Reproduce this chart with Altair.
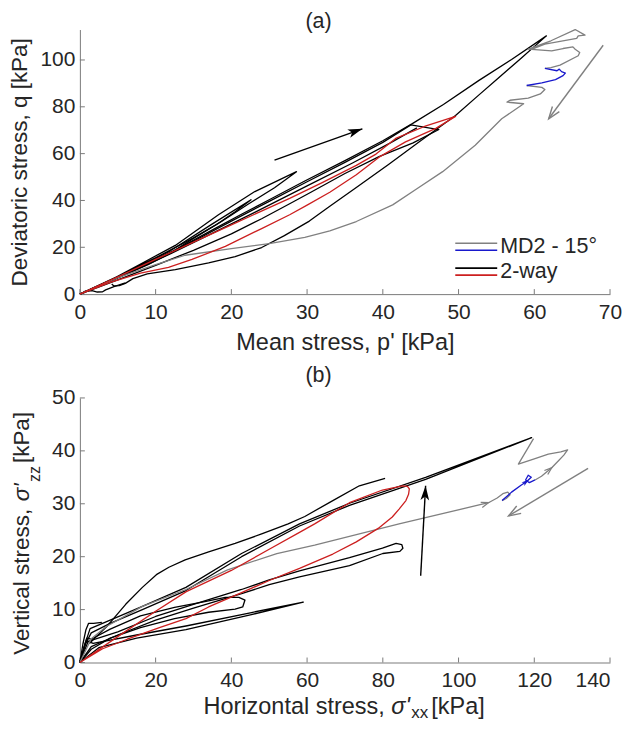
import math
import altair as alt
import pandas as pd

FONT = "Liberation Sans"
TXT = "#262626"
AXC = "#7a7a7a"
C_BLACK = "#000000"
C_GREY = "#808080"
C_RED = "#cc1f1f"
C_BLUE = "#1818cc"

# ---------------- panel (a): deviatoric vs mean stress ----------------
A_TITLE = "(a)"
A_XTITLE = "Mean stress, p' [kPa]"
A_YTITLE = "Deviatoric stress, q [kPa]"
A_XDOM = [0, 70]
A_YDOM = [0, 113]
A_XTICKS = [0, 10, 20, 30, 40, 50, 60, 70]
A_YTICKS = [0, 20, 40, 60, 80, 100]
A_LEGEND = ["MD2 - 15°", "2-way"]

A_BLACK_1 = [(0, 0), (4, 5.6), (8, 11.8), (12.6, 18.8), (18, 28.3), (21.4, 34.2), (25, 40.3), (29.7, 48.3),
             (35, 57), (40, 65.5), (43.9, 72.8), (48, 81), (52.7, 91.3), (57, 100.2), (61.6, 110.3),
             (58, 100), (55, 91.6), (52.7, 85.1), (49.6, 76.3), (45, 65.5), (40.8, 55.5), (36.5, 45.5),
             (33, 37.5), (30.3, 31.2), (27, 25), (24, 19.9), (20.5, 16), (17, 13.3), (12.6, 10.5),
             (8.9, 8.6), (7, 6.6), (6, 4.6), (5.2, 3.6), (4.5, 3.5), (4.2, 4.3)]
A_BLACK_2 = [(0, 0), (5, 7.2), (10, 14.6), (15, 22.6), (20, 31.2), (25, 39.6), (30, 48.0), (35, 56.3),
             (40, 64.8), (43.7, 72.3), (47.4, 70.3), (44, 64.6), (39.5, 58.7), (35, 51.5), (30.5, 43.5),
             (27.7, 38.6), (24, 32.2), (20, 25.7), (15, 18.7), (10, 12.3), (5, 6.1), (0, 0)]
A_BLACK_3 = [(0, 0), (4, 5.9), (8.2, 13.2), (12.6, 20.8), (18.3, 33.9), (23.1, 43.8), (28.6, 52.3),
             (25.7, 45.4), (22.2, 38.4), (18.7, 31), (15, 24), (10, 15.5), (5, 7.6), (0, 0)]
A_BLACK_4 = [(0, 0), (6, 8.8), (12, 18.6), (17.5, 30), (22.6, 40.3), (20.5, 35.2), (18, 29.6), (15, 23.8),
             (12, 17.6), (9, 12.6), (5, 7), (0, 0)]
A_BLACK_5 = [(0.6, 1.2), (1.6, 1.5), (2.3, 0.9), (3.0, 1.0), (3.4, 1.8), (4.5, 3.2), (6.0, 4.8)]
A_BLACK_6 = [(0, 0), (6, 8.3), (12, 17.3), (18, 26.8), (24, 36.4), (30, 46.2), (36, 56), (41, 64.6),
             (44.5, 71.0)]
A_GREY_1 = [(0, 0), (5, 7), (10, 12.6), (13.9, 16.6), (20, 19.4), (25, 21.6), (29.7, 24.2), (33, 27),
            (36.5, 31), (41.3, 38.1), (44.5, 45), (47.9, 52.3), (52.2, 63.6), (55.7, 74.9), (58.6, 81.3),
            (56.4, 82.0), (56.8, 82.8), (59.2, 83.7), (60.8, 85.5), (61.4, 87.4), (61.0, 88.3), (59.0, 89.1)]
A_BLUE_1 = [(59.0, 89.1), (61.0, 90.2), (62.8, 91.6), (63.8, 93.3), (64.1, 94.4), (63.6, 95.0), (63.3, 96.1),
            (63.0, 95.4), (61.4, 96.4)]
A_GREY_2 = [(61.4, 96.4), (62.2, 96.7), (63.4, 97.8), (65.8, 101.8), (66.0, 103.2), (65.4, 104.6),
            (65.1, 105.6), (63.8, 104.9), (62.3, 103.9), (59.2, 104.6), (62.2, 108.2), (65.4, 113.0),
            (66.7, 110.6), (65.8, 110.3), (65.6, 109.2), (61.4, 106.8), (59.7, 104.6)]
A_RED_1 = [(0, 0), (4, 5.0), (8, 9.0), (11.7, 11.4), (14.8, 14.8), (19.2, 20.4), (24, 28.0), (27.7, 33.9),
           (30, 38), (33, 43.5), (36.5, 51), (39.5, 58.5), (43, 65), (47, 70.8), (49.6, 75.9), (45.5, 71.6),
           (41.7, 66.5), (39.1, 59.8), (36.5, 55), (32, 47.6), (27.7, 40.9), (20, 29.6), (15, 22.2),
           (10, 14.8), (5, 7.4), (0, 0)]
A_ARROW_BLACK = [(25.7, 57.2), (37.3, 70.6)]
A_ARROW_GREY = [(69.1, 106.3), (61.9, 74.9)]

# ---------------- panel (b): vertical vs horizontal stress ----------------
B_TITLE = "(b)"
B_XTITLE = ["Horizontal stress, ", "σ'", "xx", " [kPa]"]
B_YTITLE = ["Vertical stress, ", "σ'", "zz", " [kPa]"]
B_XDOM = [0, 140]
B_YDOM = [0, 50]
B_XTICKS = [0, 20, 40, 60, 80, 100, 120, 140]
B_YTICKS = [0, 10, 20, 30, 40, 50]

B_BLACK_S = [(2.5, 3.6), (4.5, 5.0), (7.1, 6.8), (9.5, 8.8), (12.1, 11.0), (16.5, 14.2), (20.2, 16.6),
             (23.5, 18.0), (27.8, 19.4), (34, 20.9), (41, 22.5), (48, 24.3), (55, 26.2), (59.4, 27.6),
             (66.8, 30.6), (73.8, 33.4), (80.6, 34.8)]
B_BLACK_LONG = [(0, 0), (1.2, 3.2), (2.7, 6.4), (8, 8), (16.5, 10.6), (28, 14.2), (42.7, 20.6), (58, 26.2),
                (71.2, 30.1), (91.3, 35), (119.3, 42.5), (91.3, 34.6), (71.2, 29.7), (58, 25.8),
                (42.7, 20.0), (28, 13.6), (16.5, 10.0), (8, 7.4), (3, 5.6), (1.5, 3.5), (0, 0)]
B_BLACK_84 = [(0, 0), (1.5, 3.8), (3, 4.2), (10, 5.8), (20, 8.7), (30, 11.0), (42.7, 13.8), (50, 15.6),
              (58, 17.3), (71.2, 19.8), (79.9, 21.6), (83.5, 22.5), (85, 22.3), (85.3, 21.6), (84.5, 21.0),
              (80, 20.6), (71.2, 18.3), (58, 16.2), (50, 14.7), (42.7, 13.0), (30, 10.3), (20, 8.0),
              (10, 5.2), (3, 3.0), (0, 0)]
B_BLACK_43 = [(0, 0), (1.8, 4.6), (3, 4.4), (8, 6.3), (16, 8.8), (25, 10.4), (33, 11.5), (38.4, 12.3),
              (42, 12.3), (43.6, 11.8), (43, 10.5), (41, 10.1), (34, 9.5), (25, 8.3), (16, 6.6), (8, 4.6),
              (3, 2.5), (0, 0)]
B_BLACK_59 = [(0, 0), (2.2, 4.0), (3.5, 3.6), (15, 5.2), (28, 6.9), (45, 9.4), (59, 11.4), (45, 9.0),
              (28, 6.2), (15, 4.6), (5, 2.8), (0, 0)]
B_BLACK_SPIKE = [(0, 0), (0.8, 3.5), (1.6, 6.2), (2.3, 7.4), (3.6, 7.4), (5.8, 7.6)]
B_GREY_1 = [(0, 0), (3, 4.5), (7, 6.8), (16.5, 10.6), (28, 13.8), (39, 17.5), (52, 20.6), (62, 22.2),
            (84.3, 26.2), (107.9, 30.2), (110.2, 31.1), (111.7, 31.9), (113, 32.2), (113.6, 31.7),
            (112.6, 31.0), (111.5, 30.6)]
B_BLUE_1 = [(111.5, 30.6), (114, 32.2), (116.5, 33.5), (118, 34.2), (119.2, 35.0), (118.4, 35.4),
            (117.7, 34.5), (118.7, 34.0), (120.2, 34.5)]
B_GREY_2 = [(120.2, 34.5), (121.9, 35.2), (124.6, 36.8), (126.2, 38.0), (127.8, 39.2), (128.8, 40.2),
            (127, 39.8), (123.7, 39.4), (120, 38.5), (115.8, 37.5), (119.8, 42.3)]
B_RED_1 = [(0, 0), (6, 2.6), (12.5, 4.4), (21, 6.6), (28, 8.3), (34, 10.5), (42.7, 13.2), (50, 15.5),
           (58, 17.8), (66.8, 20.5), (73, 22.8), (79.1, 25.5), (82.5, 27.5), (84.3, 29), (86.1, 30.6),
           (86.8, 31.8), (87, 32.8), (86.5, 33.3), (85.2, 33.4), (79.9, 32.6), (71.2, 30.2), (62, 26.2),
           (58, 24.6), (50, 21.4), (40, 17.4), (28.1, 13.4), (20, 9.7), (10, 4.9), (0, 0)]
B_ARROW_BLACK = [(90.0, 16.4), (91.3, 33.4)]
B_ARROW_GREY = [(134.2, 36.7), (113.2, 27.7)]
B_GREY_GLYPHS = [[(105.3, 29.6), (107.9, 30.2)], [(122.6, 35.6), (124.6, 36.8)]]
B_BLUE_GLYPHS = [[(117.0, 33.7), (118.6, 34.6)]]

# ---------------- layout / style ----------------
W = 531
HA = 265
HB = 265
LAB = 21        # tick labels
XT = 23.5       # horizontal axis titles
YT = 22.5       # vertical axis titles
PT = 21.5       # (a)/(b)
SUBX = 17
SUBY = 16
TITLE_X = 239   # centre of the (a)/(b) labels, from the plot's left edge

HEAD_FILLED = "M0,0L-0.6,2L0,1.5L0.6,2Z"
HEAD_OPEN = "M-0.5,1.4L0,0L0.5,1.4"

CW = {' ': 278, 'H': 722, 'o': 556, 'r': 333, 'i': 222, 'z': 500, 'n': 556, 't': 278, 'a': 556,
      'l': 222, 's': 500, 'e': 556, ',': 278, '[': 278, 'k': 500, 'P': 667, ']': 278, 'V': 667,
      'c': 500, 'x': 500, "'": 191, 'σ': 620}


def tw(s, size):
    return sum(CW.get(c, 556) for c in s) / 1000.0 * size


def enc(xdom, ydom, xticks, yticks, xtitle, ytitle, last_right=None):
    xs = alt.Scale(domain=xdom, nice=False, zero=False)
    ys = alt.Scale(domain=ydom, nice=False, zero=False)
    xkw = {}
    if last_right is not None:
        xkw["labelAlign"] = {"condition": {"test": f"datum.value == {last_right}", "value": "right"},
                             "value": "center"}
    ax = alt.Axis(values=xticks, title=xtitle, grid=False, ticks=False, tickSize=0, domainColor=AXC,
                  labelFont=FONT, labelFontSize=LAB, labelColor=TXT, labelPadding=7, labelFlush=False,
                  labelOverlap=False,
                  titleFont=FONT, titleFontSize=XT, titleFontWeight="normal", titleColor=TXT,
                  titlePadding=8, **xkw)
    ay = alt.Axis(values=yticks, title=ytitle, grid=False, ticks=False, tickSize=0, domainColor=AXC,
                  labelFont=FONT, labelFontSize=LAB, labelColor=TXT, labelPadding=5, labelFlush=False,
                  labelOverlap=False,
                  titleFont=FONT, titleFontSize=YT, titleFontWeight="normal", titleColor=TXT,
                  titlePadding=8)
    return (lambda f="x": alt.X(f"{f}:Q", scale=xs, axis=ax)), (lambda f="y": alt.Y(f"{f}:Q", scale=ys, axis=ay))


def curves_df(curves):
    rows = []
    for n, pts in enumerate(curves):
        for k, (x, y) in enumerate(pts):
            rows.append({"curve": n, "i": k, "x": x, "y": y})
    return pd.DataFrame(rows)


def line_layer(curves, color, X, Y, sw=1.3):
    return alt.Chart(curves_df(curves)).mark_line(color=color, strokeWidth=sw, strokeJoin="round").encode(
        x=X(), y=Y(), detail="curve:N", order="i:Q")


def angle(p0, p1, sx, sy):
    dx = (p1[0] - p0[0]) * sx
    dy = -(p1[1] - p0[1]) * sy
    return math.degrees(math.atan2(dx, -dy)) % 360


def head_layer(segs, color, X, Y, sx, sy, filled, size, sw=1.4):
    df = pd.DataFrame([{"x": s[1][0], "y": s[1][1], "ang": angle(s[0], s[1], sx, sy)} for s in segs])
    return alt.Chart(df).mark_point(shape=HEAD_FILLED if filled else HEAD_OPEN, filled=filled,
                                    color=color, size=size, opacity=1, strokeWidth=sw).encode(
        x=X(), y=Y(), angle=alt.Angle("ang:Q", scale=None))


def arrow_layers(arrow, color, X, Y, sx, sy, filled, size):
    (x0, y0), (x1, y1) = arrow
    shaft = alt.Chart(pd.DataFrame([{"x": x0, "y": y0, "x2": x1, "y2": y1}])).mark_rule(
        color=color, strokeWidth=1.4).encode(x=X(), y=Y(), x2="x2:Q", y2="y2:Q")
    return [shaft, head_layer([arrow], color, X, Y, sx, sy, filled, size)]


def tick_layers(xticks, yticks, X, Y, H):
    xt = alt.Chart(pd.DataFrame({"x": xticks})).mark_rule(color=AXC, strokeWidth=1).encode(
        x=X(), y=alt.value(H), y2=alt.value(H - 5))
    yt = alt.Chart(pd.DataFrame({"y": yticks})).mark_rule(color=AXC, strokeWidth=1).encode(
        y=Y(), x=alt.value(0), x2=alt.value(5))
    return [xt, yt]


def text_layer(txt, x, y, size, align="center", angle_=0, style="normal", baseline="middle"):
    return alt.Chart(pd.DataFrame({"t": [txt]})).mark_text(
        font=FONT, fontSize=size, color=TXT, align=align, baseline=baseline, angle=angle_,
        fontStyle=style).encode(text="t:N", x=alt.value(x), y=alt.value(y))


# ---------------- panel (a) ----------------
XA, YA = enc(A_XDOM, A_YDOM, A_XTICKS, A_YTICKS, A_XTITLE, A_YTITLE)
sxa, sya = W / (A_XDOM[1] - A_XDOM[0]), HA / (A_YDOM[1] - A_YDOM[0])
layers_a = tick_layers(A_XTICKS, A_YTICKS, XA, YA, HA)
layers_a += [
    line_layer([A_BLACK_1, A_BLACK_2, A_BLACK_3, A_BLACK_4, A_BLACK_5, A_BLACK_6], C_BLACK, XA, YA),
    line_layer([A_GREY_1, A_GREY_2], C_GREY, XA, YA),
    line_layer([A_RED_1], C_RED, XA, YA),
    line_layer([A_BLUE_1], C_BLUE, XA, YA),
]
layers_a += arrow_layers(A_ARROW_BLACK, C_BLACK, XA, YA, sxa, sya, True, 210)
layers_a += arrow_layers(A_ARROW_GREY, C_GREY, XA, YA, sxa, sya, False, 300)
for yy, col in [(214, C_GREY), (221, C_BLUE), (239, C_BLACK), (246, C_RED)]:
    layers_a.append(alt.Chart(pd.DataFrame({"k": [0]})).mark_rule(color=col, strokeWidth=1.6).encode(
        x=alt.value(376), x2=alt.value(418), y=alt.value(yy)))
layers_a += [text_layer(A_LEGEND[0], 421, 217.5, 21.5, align="left"),
             text_layer(A_LEGEND[1], 421, 242.5, 21.5, align="left"),
             text_layer(A_TITLE, TITLE_X, -7.5, PT)]
panel_a = alt.layer(*layers_a).properties(width=W, height=HA)

# ---------------- panel (b) ----------------
XB, YB = enc(B_XDOM, B_YDOM, B_XTICKS, B_YTICKS, None, None, last_right=140)
sxb, syb = W / (B_XDOM[1] - B_XDOM[0]), HB / (B_YDOM[1] - B_YDOM[0])
layers_b = tick_layers(B_XTICKS, B_YTICKS, XB, YB, HB)
layers_b += [
    line_layer([B_BLACK_S, B_BLACK_LONG, B_BLACK_84, B_BLACK_43, B_BLACK_59, B_BLACK_SPIKE], C_BLACK, XB, YB),
    line_layer([B_GREY_1, B_GREY_2], C_GREY, XB, YB),
    line_layer([B_RED_1], C_RED, XB, YB),
    line_layer([B_BLUE_1], C_BLUE, XB, YB),
]
layers_b += arrow_layers(B_ARROW_BLACK, C_BLACK, XB, YB, sxb, syb, True, 210)
layers_b += arrow_layers(B_ARROW_GREY, C_GREY, XB, YB, sxb, syb, False, 300)
layers_b.append(head_layer(B_GREY_GLYPHS, C_GREY, XB, YB, sxb, syb, False, 110, sw=1.3))
layers_b.append(head_layer(B_BLUE_GLYPHS, C_BLUE, XB, YB, sxb, syb, True, 60))
layers_b.append(text_layer(B_TITLE, TITLE_X, -22, PT))

# x title with subscript
ws = [tw(B_XTITLE[0], XT), tw(B_XTITLE[1], XT) + 1, tw(B_XTITLE[2], SUBX) + 3, tw(B_XTITLE[3], XT)]
cum = 268 - sum(ws) / 2
yb = HB + 52
for k, part in enumerate(B_XTITLE):
    sub = (k == 2)
    layers_b.append(text_layer(part, cum, yb + (4 if sub else 0), SUBX if sub else XT, align="left",
                               style="italic" if k == 1 else "normal", baseline="alphabetic"))
    cum += ws[k]

# y title with subscript (rotated)
ws = [tw(B_YTITLE[0], YT), tw(B_YTITLE[1], YT) + 1, tw(B_YTITLE[2], SUBY) + 3, tw(B_YTITLE[3], YT)]
xb = -51
cum = HB / 2 + sum(ws) / 2
for k, part in enumerate(B_YTITLE):
    sub = (k == 2)
    layers_b.append(text_layer(part, xb + (11 if sub else 0), cum, SUBY if sub else YT, align="left",
                               angle_=270, style="italic" if k == 1 else "normal", baseline="alphabetic"))
    cum -= ws[k]

panel_b = alt.layer(*layers_b).properties(width=W, height=HB)

chart = alt.vconcat(panel_a, panel_b, spacing=11).properties(
    padding={"left": 0, "top": 2, "right": 0, "bottom": 0}
).configure_view(stroke=None)

chart.save("out.html", embed_options={"renderer": "svg", "actions": False})
